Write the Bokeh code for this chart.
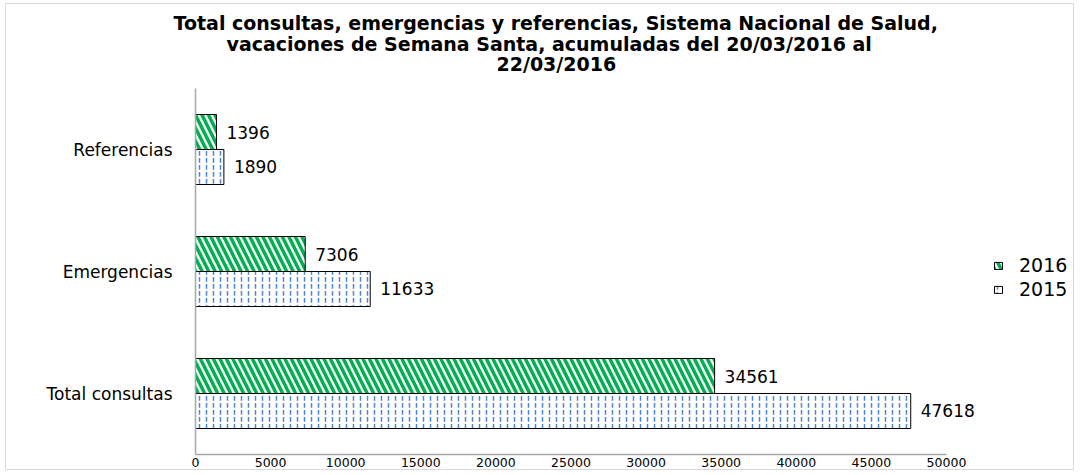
from bokeh.plotting import figure
from bokeh.models import (FactorRange, Range1d, Legend, LegendItem, Title,
                          ColumnDataSource, FixedTicker)
from bokeh.transform import dodge
from bokeh.core.properties import value
from bokeh.embed import file_html
from bokeh.resources import INLINE

# ---- data ----
categories = ["Total consultas", "Emergencias", "Referencias"]
values_2015 = [47618, 11633, 1890]
values_2016 = [34561, 7306, 1396]
series_names = ["2016", "2015"]
x_ticks = [0, 5000, 10000, 15000, 20000, 25000, 30000, 35000, 40000, 45000, 50000]
title_lines = [
    "Total consultas, emergencias y referencias, Sistema Nacional de Salud,",
    "vacaciones de Semana Santa,  acumuladas del 20/03/2016  al",
    "22/03/2016",
]

FONT = "DejaVu Sans"
W, H = 1069, 467
AXIS_MAX = 50000
X_END = AXIS_MAX * 880 / 751   # room on the right for labels and legend

src = ColumnDataSource(dict(
    cat=categories,
    v2015=values_2015,
    v2016=values_2016,
    l2015=[str(v) for v in values_2015],
    l2016=[str(v) for v in values_2016],
))

p = figure(width=W, height=H,
           y_range=FactorRange(factors=categories, range_padding=0, factor_padding=0),
           x_range=Range1d(0, X_END),
           output_backend="svg", toolbar_location=None,
           min_border_left=189, min_border_right=0,
           min_border_top=84, min_border_bottom=17)
p.styles = {"border": "1px solid #d9d9d9", "margin-left": "5px", "margin-top": "3px"}
p.outline_line_color = None
p.xgrid.visible = False
p.ygrid.visible = False

off = 0.1434
bh = 0.287

r16 = p.hbar(y=dodge("cat", off, range=p.y_range), left=0, right="v2016", height=bh,
             source=src, fill_color="white", line_color="black", line_width=1,
             hatch_pattern="\\", hatch_color="#00B050", hatch_weight=3.5, hatch_scale=13)
r15 = p.hbar(y=dodge("cat", -off, range=p.y_range), left=0, right="v2015", height=bh,
             source=src, fill_color="white", line_color="black", line_width=1,
             hatch_pattern=":", hatch_color="#4F86D0", hatch_weight=1.5, hatch_scale=7)

p.text(x="v2016", y=dodge("cat", off, range=p.y_range), text="l2016", source=src,
       x_offset=10, text_baseline="middle", text_align="left",
       text_font=value(FONT), text_font_size="17px", text_color="black")
p.text(x="v2015", y=dodge("cat", -off, range=p.y_range), text="l2015", source=src,
       x_offset=10, text_baseline="middle", text_align="left",
       text_font=value(FONT), text_font_size="17px", text_color="black")

# axes
p.xaxis.ticker = FixedTicker(ticks=x_ticks)
p.xaxis.bounds = (0, AXIS_MAX)
p.xaxis.major_tick_line_color = None
p.xaxis.minor_tick_line_color = None
p.xaxis.major_tick_out = 0
p.xaxis.major_label_standoff = 3
p.xaxis.axis_line_color = "#a6a6a6"
p.xaxis.axis_line_width = 1.5
p.xaxis.major_label_text_font = FONT
p.xaxis.major_label_text_font_size = "12.5px"
p.xaxis.major_label_text_color = "black"

p.yaxis.major_tick_line_color = None
p.yaxis.minor_tick_line_color = None
p.yaxis.major_tick_out = 0
p.yaxis.major_label_standoff = 23
p.yaxis.axis_line_color = "#a6a6a6"
p.yaxis.axis_line_width = 1.5
p.yaxis.major_label_text_font = FONT
p.yaxis.major_label_text_font_size = "17px"
p.yaxis.major_label_text_color = "black"

# spacer between plot area and title block
p.add_layout(Title(text=" ", text_font_size="10px", standoff=1), "above")
# title: three lines, each placed so that it is centred over the chart area
offsets = [-22, 31, 301]
standoffs = [2, -8.2, 0]
for line, off_x, so in reversed(list(zip(title_lines, offsets, standoffs))):
    p.add_layout(Title(text=line, align="left", offset=off_x, standoff=so,
                       text_font=FONT, text_font_size="19px",
                       text_font_style="bold", text_color="black"), "above")

legend = Legend(items=[LegendItem(label=series_names[0], renderers=[r16]),
                       LegendItem(label=series_names[1], renderers=[r15])],
                location=(798, 153), orientation="vertical",
                padding=0, margin=0, spacing=0,
                glyph_width=10, glyph_height=9, label_height=24, label_standoff=16,
                label_text_font=FONT, label_text_font_size="19px",
                label_text_color="black", border_line_color=None,
                background_fill_alpha=0)
p.add_layout(legend, "center")

open("out.html", "w").write(file_html(p, INLINE))
